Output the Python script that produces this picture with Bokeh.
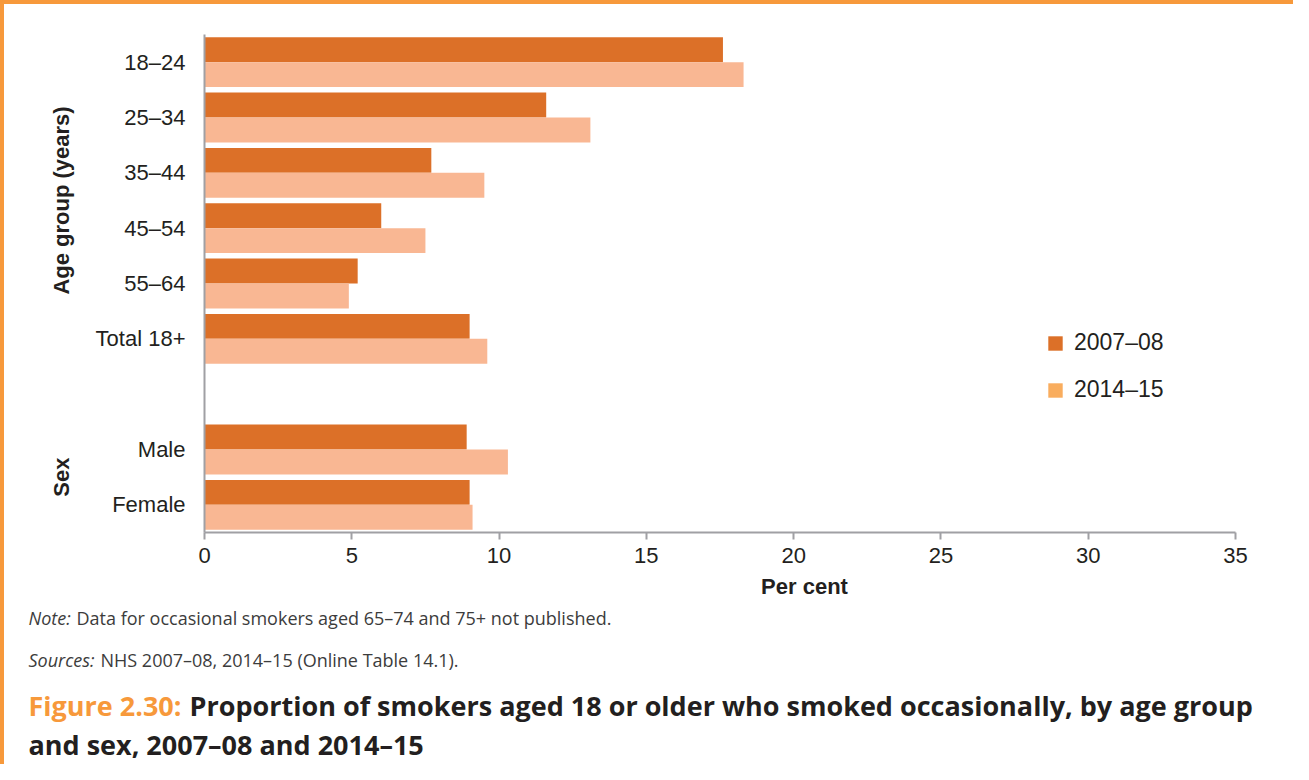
from bokeh.plotting import figure
from bokeh.layouts import column
from bokeh.models import (FactorRange, Range1d, Legend, LegendItem,
                          FixedTicker, ColumnDataSource)
from bokeh.core.properties import value
from bokeh.transform import dodge
from bokeh.embed import file_html
from bokeh.resources import INLINE

groups = ["Age group (years)"] * 6 + ["Sex"] * 2
categories = ["18–24", "25–34", "35–44", "45–54", "55–64", "Total 18+", "Male", "Female"]
v2007 = [17.6, 11.6, 7.7, 6.0, 5.2, 9.0, 8.9, 9.0]
v2014 = [18.3, 13.1, 9.5, 7.5, 4.9, 9.6, 10.3, 9.1]
series = ["2007–08", "2014–15"]
x_ticks = [0, 5, 10, 15, 20, 25, 30, 35]
x_title = "Per cent"
note_lead, note_text = "Note:", "Data for occasional smokers aged 65–74 and 75+ not published."
src_lead, src_text = "Sources:", "NHS 2007–08, 2014–15 (Online Table 14.1)."
fig_lead = "Figure 2.30:"
fig_title1 = "Proportion of smokers aged 18 or older who smoked occasionally, by age group"
fig_title2 = "and sex, 2007–08 and 2014–15"

DARK = "#DC7028"
LIGHT = "#F9B793"
LEGEND_LIGHT = "#F9AD5E"
ORANGE = "#F7993B"
TXT = "#231F20"
FONT = "Liberation Sans"
NFONT = "Open Sans"
NCOL = "#3C3C3C"
W = 1289

factors = list(zip(groups, categories))
y_range = FactorRange(*reversed(factors), factor_padding=0, group_padding=1, range_padding=0)

p = figure(width=W, height=568, y_range=y_range, x_range=Range1d(0, 35),
           output_backend="svg", toolbar_location=None,
           min_border_left=200, min_border_right=58, min_border_top=30, min_border_bottom=40)
p.frame_align = False
p.outline_line_color = None
p.grid.grid_line_color = None

src = ColumnDataSource(dict(y=factors, v2007=v2007, v2014=v2014))
r1 = p.hbar(y=dodge("y", 0.225, range=p.y_range), right="v2007", left=0, height=0.45,
            source=src, fill_color=DARK, line_color=None)
r2 = p.hbar(y=dodge("y", -0.225, range=p.y_range), right="v2014", left=0, height=0.45,
            source=src, fill_color=LIGHT, line_color=None)

dummy = ColumnDataSource(dict(y=factors[:1], r=[0]))
d2 = p.hbar(y="y", right="r", left=0, height=0.45, source=dummy,
            fill_color=LEGEND_LIGHT, line_color=None)

legend = Legend(items=[LegendItem(label=series[0], renderers=[r1]),
                       LegendItem(label=series[1], renderers=[d2])],
                location=(842, 129), padding=0, margin=0, spacing=20,
                glyph_width=18, glyph_height=18, label_height=25, label_standoff=10,
                border_line_color=None, background_fill_alpha=0,
                label_text_font=FONT, label_text_font_size="23px", label_text_color=TXT)
p.add_layout(legend)

xa = p.xaxis[0]
xa.ticker = FixedTicker(ticks=x_ticks)
xa.axis_line_color = "#A0A0A4"
xa.axis_line_width = 2
xa.major_tick_line_color = "#A0A0A4"
xa.major_tick_line_width = 2
xa.major_tick_in = 0
xa.major_tick_out = 7
xa.minor_tick_line_color = None
xa.major_label_text_font = FONT
xa.major_label_text_font_size = "22px"
xa.major_label_text_color = TXT
xa.major_label_standoff = 8

ya = p.yaxis[0]
ya.axis_line_color = "#A0A0A4"
ya.axis_line_width = 2
ya.major_tick_line_color = None
ya.major_tick_out = 0
ya.major_tick_in = 0
ya.minor_tick_line_color = None
ya.major_label_text_font = FONT
ya.major_label_text_font_size = "22px"
ya.major_label_text_color = TXT
ya.major_label_standoff = 19
ya.group_text_font = FONT
ya.group_text_font_size = "22px"
ya.group_text_font_style = "bold"
ya.group_text_color = TXT
ya.group_label_orientation = "parallel"
ya.separator_line_color = None

# text panel below the chart (pixel coordinates, y downwards)
H2 = 192
q = figure(width=W, height=H2, x_range=Range1d(0, W), y_range=Range1d(H2, 0),
           output_backend="svg", toolbar_location=None, x_axis_type=None, y_axis_type=None,
           min_border_left=0, min_border_right=0, min_border_top=0, min_border_bottom=0)
q.frame_align = False
q.outline_line_color = None
q.grid.grid_line_color = None

q.text(x=[800], y=[14], text=[x_title], text_font=value(FONT), text_font_style="bold",
       text_font_size="22px", text_color=TXT, text_align="center", text_baseline="middle")
q.text(x=[24, 24], y=[45, 87], text=[note_lead, src_lead], text_font=value(NFONT),
       text_font_style="italic", text_font_size="18px", text_color=NCOL, text_baseline="middle")
q.text(x=[72, 96], y=[45, 87], text=[note_text, src_text], text_font=value(NFONT),
       text_font_size="18px", text_color=NCOL, text_baseline="middle")
q.text(x=[24], y=[133], text=[fig_lead], text_font=value(NFONT), text_font_style="bold",
       text_font_size="27px", text_color=ORANGE, text_baseline="middle")
q.text(x=[185, 24], y=[133, 172], text=[fig_title1, fig_title2], text_font=value(NFONT),
       text_font_style="bold", text_font_size="27px", text_color=TXT, text_baseline="middle")

layout = column(p, q, spacing=0)
layout.styles = {"border-top": "4px solid " + ORANGE, "border-left": "4px solid " + ORANGE}

open("out.html", "w").write(file_html(layout, INLINE))
